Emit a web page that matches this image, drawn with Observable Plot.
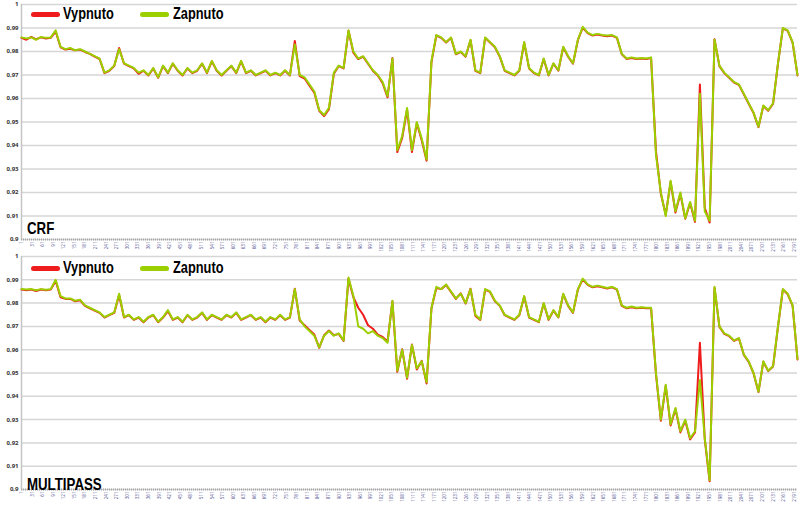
<!DOCTYPE html>
<html><head><meta charset="utf-8">
<script src="https://cdn.jsdelivr.net/npm/d3@7"></script>
<script src="https://cdn.jsdelivr.net/npm/@observablehq/plot@0.6"></script>
<style>
body{margin:0;background:#fff;width:800px;height:505px;overflow:hidden;font-family:"Liberation Sans",Arial,sans-serif}
.panel{position:relative;width:800px}
.panel svg{display:block}
.lg{position:absolute;font-family:"Liberation Sans",Arial,sans-serif;font-weight:bold;font-size:16px;line-height:16px;color:#000;white-space:nowrap;transform:scaleX(0.8);transform-origin:0 0}
.ttl{position:absolute;font-family:"Liberation Sans",Arial,sans-serif;font-weight:bold;font-size:17px;line-height:17px;color:#000;white-space:nowrap;transform:scaleX(0.78);transform-origin:0 0}
.sw{position:absolute;height:5px;width:29px;border-radius:3px}
</style></head><body>
<div id="p1" class="panel"></div><div id="p2" class="panel"></div>
<script>
const seriesNames = ["Vypnuto", "Zapnuto"];
const seriesColors = ["#ee1c1c", "#9ccf00"];
const panelTitles = ["CRF", "MULTIPASS"];
const yTicks = [0.9, 0.91, 0.92, 0.93, 0.94, 0.95, 0.96, 0.97, 0.98, 0.99, 1];
const frameTicks = [1,31,61,91,121,151,181,211,241,271,301,331,361,391,421,451,481,511,541,571,601,631,661,691,721,751,781,811,841,871,901,931,961,991,1021,1051,1081,1111,1141,1171,1201,1231,1261,1291,1321,1351,1381,1411,1441,1471,1501,1531,1561,1591,1621,1651,1681,1711,1741,1771,1801,1831,1861,1891,1921,1951,1981,2011,2041,2071,2101,2131,2161,2191];
const lastFrame = 2200;

const crfZapnuto = [
0.986,0.9855,0.986,0.985,0.9862,0.9858,0.986,0.989,0.982,0.981,
0.9815,0.9805,0.981,0.980,0.979,0.978,0.977,0.971,0.972,0.974,
0.981,0.975,0.974,0.973,0.971,0.972,0.970,0.973,0.969,0.974,
0.971,0.975,0.972,0.970,0.973,0.971,0.972,0.975,0.971,0.976,
0.972,0.970,0.972,0.974,0.971,0.976,0.971,0.972,0.970,0.971,
0.972,0.970,0.971,0.970,0.972,0.970,0.983,0.970,0.969,0.966,
0.963,0.955,0.953,0.956,0.971,0.974,0.973,0.989,0.980,0.977,
0.978,0.975,0.972,0.970,0.967,0.961,0.977,0.938,0.944,0.956,
0.938,0.950,0.943,0.934,0.976,0.987,0.986,0.984,0.986,0.979,
0.980,0.978,0.985,0.972,0.971,0.986,0.984,0.982,0.978,0.972,
0.971,0.970,0.972,0.984,0.973,0.971,0.970,0.977,0.970,0.975,
0.972,0.982,0.978,0.975,0.985,0.9905,0.988,0.987,0.9875,0.987,
0.9868,0.987,0.986,0.979,0.977,0.9775,0.977,0.9772,0.977,0.9775,
0.936,0.920,0.910,0.925,0.912,0.920,0.909,0.916,0.908,0.962,
0.912,0.908,0.985,0.974,0.971,0.969,0.967,0.966,0.962,0.958,
0.954,0.948,0.957,0.955,0.958,0.975,0.990,0.989,0.984,0.970];

const crfVypnuto = [
0.9858,0.985,0.9862,0.9852,0.986,0.9855,0.9858,0.9885,0.9818,0.9808,
0.9812,0.9805,0.9808,0.9798,0.979,0.9778,0.9768,0.9708,0.9718,0.9738,
0.9815,0.9748,0.9738,0.9728,0.9705,0.9718,0.9698,0.9728,0.9688,0.9738,
0.9708,0.9748,0.9718,0.9698,0.9728,0.9708,0.9718,0.9748,0.9708,0.9758,
0.9718,0.9698,0.9718,0.9738,0.9708,0.9758,0.9708,0.9718,0.9698,0.9708,
0.9718,0.9698,0.9708,0.9698,0.9718,0.9698,0.9845,0.9695,0.9685,0.9655,
0.9625,0.9548,0.9525,0.9555,0.9705,0.9738,0.9728,0.9888,0.9795,0.9768,
0.9778,0.9748,0.9718,0.9698,0.9665,0.9605,0.9772,0.9372,0.9432,0.9552,
0.9372,0.9495,0.9422,0.9335,0.9755,0.9868,0.9858,0.9838,0.9858,0.9788,
0.9798,0.9778,0.9848,0.9718,0.9708,0.9858,0.9838,0.9818,0.9778,0.9718,
0.9708,0.9698,0.9718,0.9838,0.9728,0.9708,0.9698,0.9768,0.9698,0.9748,
0.9718,0.9818,0.9778,0.9748,0.9848,0.9902,0.9878,0.9868,0.9872,0.9868,
0.9865,0.9868,0.9858,0.9788,0.9768,0.9772,0.9768,0.977,0.9768,0.9772,
0.9375,0.9195,0.9105,0.9245,0.9115,0.9195,0.9088,0.9155,0.9075,0.966,
0.9135,0.9072,0.9852,0.9738,0.9708,0.9688,0.9668,0.9658,0.9618,0.9578,
0.9538,0.9478,0.9568,0.9548,0.9578,0.9748,0.9898,0.9888,0.9838,0.9698];

const mpZapnuto = [
0.986,0.9858,0.986,0.9855,0.986,0.9857,0.986,0.990,0.983,0.982,
0.982,0.981,0.9815,0.979,0.978,0.977,0.976,0.974,0.975,0.976,
0.984,0.974,0.975,0.973,0.974,0.972,0.974,0.975,0.972,0.974,
0.977,0.973,0.974,0.972,0.975,0.973,0.974,0.976,0.973,0.975,
0.974,0.973,0.975,0.974,0.976,0.973,0.974,0.975,0.973,0.974,
0.972,0.974,0.973,0.975,0.973,0.974,0.986,0.973,0.970,0.968,
0.966,0.961,0.966,0.968,0.966,0.967,0.964,0.991,0.983,0.970,
0.969,0.967,0.968,0.966,0.965,0.963,0.981,0.951,0.960,0.948,
0.962,0.952,0.955,0.946,0.978,0.987,0.986,0.988,0.985,0.982,
0.984,0.980,0.986,0.975,0.973,0.986,0.985,0.981,0.979,0.975,
0.974,0.973,0.975,0.983,0.974,0.973,0.972,0.980,0.973,0.977,
0.974,0.984,0.979,0.976,0.986,0.9905,0.988,0.987,0.9875,0.987,
0.9865,0.987,0.986,0.979,0.978,0.9785,0.978,0.9782,0.978,0.978,
0.950,0.930,0.945,0.928,0.935,0.925,0.930,0.922,0.925,0.947,
0.922,0.904,0.987,0.970,0.967,0.966,0.964,0.965,0.958,0.955,
0.950,0.942,0.955,0.951,0.953,0.970,0.986,0.984,0.979,0.956];

const mpVypnuto = [
0.9858,0.9855,0.9858,0.9852,0.9858,0.9855,0.9858,0.9895,0.9825,0.9818,
0.9818,0.9808,0.9812,0.9788,0.9778,0.9768,0.9758,0.9738,0.9748,0.9758,
0.9835,0.9738,0.9748,0.9728,0.9738,0.9718,0.9738,0.9748,0.9718,0.9738,
0.9765,0.9728,0.9738,0.9718,0.9748,0.9728,0.9738,0.9758,0.9728,0.9748,
0.9738,0.9728,0.9748,0.9738,0.9758,0.9728,0.9738,0.9748,0.9728,0.9738,
0.9718,0.9738,0.9728,0.9748,0.9728,0.9738,0.9862,0.9725,0.9705,0.9685,
0.9665,0.9608,0.9662,0.9682,0.9662,0.9668,0.9638,0.9905,0.9825,0.978,
0.975,0.9705,0.969,0.9665,0.9655,0.9635,0.9808,0.9505,0.9602,0.9475,
0.9622,0.9515,0.9552,0.9455,0.9778,0.9865,0.986,0.9878,0.9848,0.9818,
0.9842,0.9798,0.9862,0.9745,0.9728,0.9858,0.9848,0.9808,0.9788,0.9748,
0.9738,0.9728,0.9748,0.9828,0.9738,0.9728,0.9718,0.9798,0.9728,0.9768,
0.9738,0.9838,0.9788,0.9758,0.9858,0.9902,0.9878,0.9868,0.9872,0.9868,
0.9862,0.9868,0.9858,0.9788,0.9778,0.9782,0.9778,0.978,0.9778,0.9778,
0.9495,0.9295,0.9445,0.9275,0.9345,0.9245,0.9295,0.9215,0.9245,0.963,
0.9215,0.9035,0.9865,0.9698,0.9668,0.9658,0.9638,0.9648,0.9578,0.9548,
0.9498,0.9418,0.9548,0.9508,0.9528,0.9698,0.9858,0.9838,0.9788,0.9558];

const fmtY = v => String(+v.toFixed(2)).replace(".", ",");
const fmtX = v => String(v);

function buildRows(vyp, zap) {
  const rows = [];
  const n = zap.length;
  const fr = i => 1 + i * (lastFrame - 1) / (n - 1);
  vyp.forEach((v, i) => rows.push({s: seriesNames[0], x: fr(i), y: v}));
  zap.forEach((v, i) => rows.push({s: seriesNames[1], x: fr(i), y: v}));
  return rows;
}

function drawPanel(id, title, vyp, zap, cfg) {
  const el = document.getElementById(id);
  const rows = buildRows(vyp, zap);
  const chart = Plot.plot({
    width: 800, height: cfg.height,
    marginLeft: 21, marginRight: 3, marginTop: cfg.top, marginBottom: cfg.bottom,
    x: {domain: [1, lastFrame], axis: null},
    y: {domain: [0.9, 1], axis: null},
    color: {domain: seriesNames, range: seriesColors},
    style: {background: "transparent", overflow: "visible"},
    marks: [
      Plot.gridY(yTicks, {stroke: "#d6d6d6", strokeOpacity: 1, strokeWidth: 1.5}),
      Plot.axisY(yTicks, {tickSize: 0, tickPadding: 3, fontSize: 6, fontWeight: "bold", fill: "#333", tickFormat: fmtY, label: null}),
      Plot.ruleX([1], {stroke: "#c4c4c4", strokeWidth: 1.5}),
      Plot.ruleY([0.9], {stroke: "#a8a8a8", strokeWidth: 2, strokeDasharray: "1,1"}),
      Plot.axisX(frameTicks, {tickSize: 0, tickPadding: 2, tickRotate: -90, fontSize: 4.5, fill: "#5a5a98", tickFormat: fmtX, label: null}),
      Plot.line(rows, {x: "x", y: "y", z: "s", stroke: "s", strokeWidth: 2, strokeLinejoin: "round"})
    ]
  });
  el.appendChild(chart);
  const L = cfg.legendTop;
  const parts = [
    `<div class="sw" style="left:31px;top:${L + 6}px;background:${seriesColors[0]}"></div>`,
    `<div class="lg" style="left:63px;top:${L}px">${seriesNames[0]}</div>`,
    `<div class="sw" style="left:140px;top:${L + 6}px;background:${seriesColors[1]}"></div>`,
    `<div class="lg" style="left:173px;top:${L}px">${seriesNames[1]}</div>`,
    `<div class="ttl" style="left:27px;top:${cfg.titleTop}px">${title}</div>`
  ];
  el.insertAdjacentHTML("beforeend", parts.join(""));
}

drawPanel("p1", panelTitles[0], crfVypnuto, crfZapnuto, {height: 250, top: 4, bottom: 11, legendTop: 6, titleTop: 220});
drawPanel("p2", panelTitles[1], mpVypnuto, mpZapnuto, {height: 255, top: 6, bottom: 16, legendTop: 10, titleTop: 226});
</script>
</body></html>
